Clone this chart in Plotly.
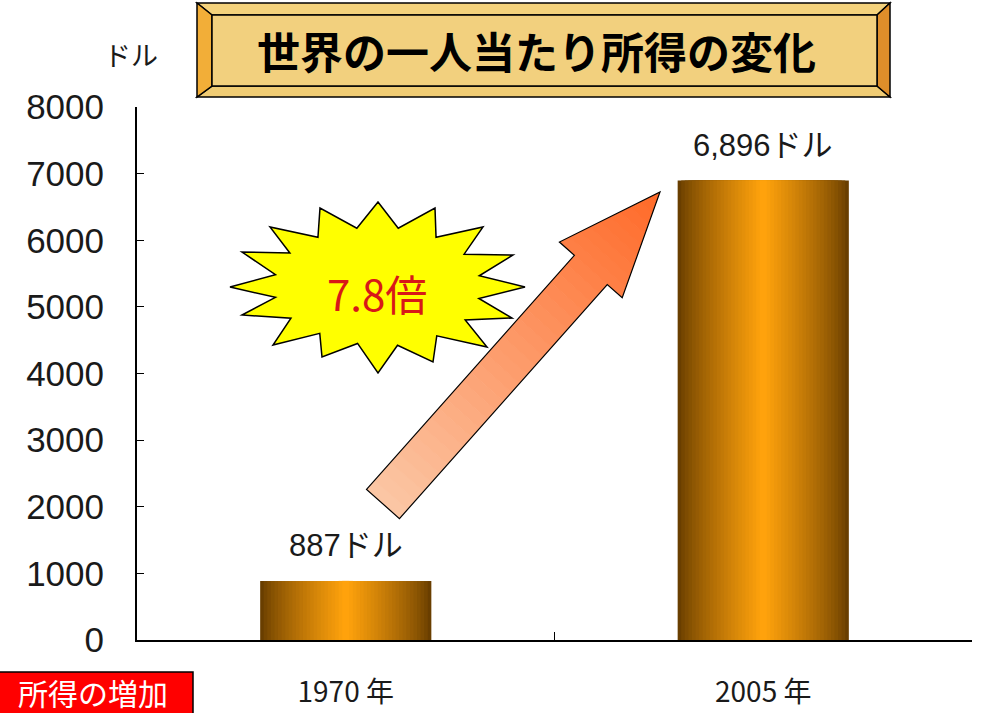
import math
import plotly.graph_objects as go

# ---- data ----
years = ["1970", "2005"]
year_labels = ["1970 年", "2005 年"]
income = [887, 6896]
income_labels = ["887ドル", "6,896ドル"]
y_ticks = [0, 1000, 2000, 3000, 4000, 5000, 6000, 7000, 8000]
ratio_text = "7.8倍"
title_text = "世界の一人当たり所得の変化"
unit_text = "ドル"
note_text = "所得の増加"

W, H = 984, 713
ML, MR, MT, MB = 137, 12, 107, 73
PW, PH = W - ML - MR, H - MT - MB

JP = "Noto Sans CJK JP"
SANS = "Liberation Sans, Noto Sans CJK JP"
NARROW = "Liberation Sans Narrow, Noto Sans CJK JP"


def px(x):
    return (x - ML) / PW


def py(y):
    return (H - MB - y) / PH


def lerp(c0, c1, t):
    return "rgb(%d,%d,%d)" % tuple(round(a + (b - a) * t) for a, b in zip(c0, c1))


def label(x, y, text, size, color="#1a1a1a", family=JP, pad=1):
    fig.add_annotation(xref="paper", yref="paper", x=px(x), y=py(y), text=text,
                       showarrow=False, xanchor="center", yanchor="middle",
                       borderpad=pad,
                       font=dict(size=size, color=color, family=family))


fig = go.Figure()

# bars with a horizontal metallic gradient: stacked overlays, narrower = brighter
edge, centre = (105, 62, 0), (255, 162, 12)
N = 24
bar_w = 0.41
for k in range(N):
    t = k / (N - 1)
    fig.add_trace(go.Bar(
        x=years, y=income,
        width=bar_w * (1 - k / N),
        marker=dict(color=lerp(edge, centre, t ** 0.8), line=dict(width=0)),
        hoverinfo="skip" if k else "y",
        showlegend=False,
    ))

# value labels above bars (x given as category index)
for i, (v, lab) in enumerate(zip(income, income_labels)):
    fig.add_annotation(x=i, y=v, xref="x", yref="y", text=lab, showarrow=False,
                       xanchor="center", yanchor="bottom", yshift=16,
                       font=dict(size=31, color="#1a1a1a", family=SANS))

shapes = []


def poly(pts_px, fill, line_w=0, line_c="black", layer="above"):
    d = "M " + " L ".join("%.5f,%.5f" % (px(x), py(y)) for x, y in pts_px) + " Z"
    shapes.append(dict(type="path", xref="paper", yref="paper", path=d,
                       fillcolor=fill, line=dict(width=line_w, color=line_c),
                       layer=layer))


# ---- growth arrow with lengthwise gradient ----
sx, sy = 383, 504          # tail centre
tx, ty = 660, 192          # tip
L = math.hypot(tx - sx, ty - sy)
ux, uy = (tx - sx) / L, (ty - sy) / L
vx, vy = -uy, ux
ws, wh, Ls = 22, 42, 313


def pt(s, t):
    return (sx + ux * s + vx * t, sy + uy * s + vy * t)


c_bot, c_top = (251, 198, 164), (255, 104, 38)
n1, n2 = 26, 10
for i in range(n1):
    s0, s1 = Ls * i / n1, Ls * (i + 1) / n1 + 0.6
    col = lerp(c_bot, c_top, (s0 / L))
    poly([pt(s0, -ws), pt(s1, -ws), pt(s1, ws), pt(s0, ws)], col)
for i in range(n2):
    s0 = Ls + (L - Ls) * i / n2
    s1 = Ls + (L - Ls) * (i + 1) / n2
    w0 = wh * (L - s0) / (L - Ls)
    w1 = wh * (L - s1) / (L - Ls)
    col = lerp(c_bot, c_top, (s0 / L))
    poly([pt(s0, -w0), pt(min(s1 + 0.6, L), -max(w1 - 0.3, 0)),
          pt(min(s1 + 0.6, L), max(w1 - 0.3, 0)), pt(s0, w0)], col)
poly([pt(0, -ws), pt(Ls, -ws), pt(Ls, -wh), pt(L, 0), pt(Ls, wh), pt(Ls, ws), pt(0, ws)],
     "rgba(0,0,0,0)", line_w=1.2)

# ---- starburst badge ----
cx, cy = 377, 288
tips = [(378, 202), (435, 208), (483, 227), (513, 255), (525, 287), (512, 318),
        (487, 347), (433, 362), (378, 373), (322, 357), (273, 345), (242, 315),
        (230, 287), (242, 252), (270, 227), (320, 208)]
star = []
for i, (ax, ay) in enumerate(tips):
    bx, by = tips[(i + 1) % len(tips)]
    mx, my = (ax + bx) / 2, (ay + by) / 2
    star.append((ax, ay))
    star.append((cx + (mx - cx) * 0.72, cy + (my - cy) * 0.72))
poly(star, "#FFFF00", line_w=1.5)
label(377, 292, ratio_text, 42, color="#D81818", family=NARROW)

# ---- framed title plate ----
ox0, oy0, ox1, oy1 = 197, 3, 890, 97
ix0, iy0, ix1, iy1 = 212, 15, 877, 86
poly([(ox0, oy0), (ox1, oy0), (ix1, iy0), (ix0, iy0)], "#F4D27C", 1.5)   # top bevel
poly([(ox0, oy1), (ox1, oy1), (ix1, iy1), (ix0, iy1)], "#F0CC74", 1.5)   # bottom bevel
poly([(ox0, oy0), (ix0, iy0), (ix0, iy1), (ox0, oy1)], "#F2AE38", 1.5)   # left bevel
poly([(ox1, oy0), (ix1, iy0), (ix1, iy1), (ox1, oy1)], "#DE8E2A", 1.5)   # right bevel
poly([(ix0, iy0), (ix1, iy0), (ix1, iy1), (ix0, iy1)], "#F2D07E", 1.5)   # face
label(536, 50, "<b>" + title_text + "</b>", 43, color="black")

# unit label
label(131, 55, unit_text, 27)

# red note box at lower left
poly([(-5, 672), (193, 672), (193, 730), (-5, 730)], "#FF0000", 1.5)
label(93, 692, note_text, 30, color="white", pad=0)

fig.update_layout(
    width=W, height=H,
    margin=dict(l=ML, r=MR, t=MT, b=MB, autoexpand=False),
    paper_bgcolor="white", plot_bgcolor="white",
    barmode="overlay",
    shapes=shapes,
    showlegend=False,
    xaxis=dict(
        type="category", categoryorder="array", categoryarray=years,
        tickvals=years, ticktext=year_labels,
        tickson="boundaries", ticks="inside", ticklen=8, tickcolor="black",
        showline=True, linecolor="black", linewidth=2, showgrid=False,
        ticklabelstandoff=26,
        tickfont=dict(size=28, color="#1a1a1a", family=NARROW),
        range=[-0.5, 1.5], fixedrange=True,
    ),
    yaxis=dict(
        range=[0, 8000], tickvals=y_ticks,
        ticks="inside", ticklen=7, tickcolor="black",
        showline=True, linecolor="black", linewidth=2, showgrid=False,
        zeroline=False, ticklabelstandoff=24,
        tickfont=dict(size=35, color="#1a1a1a", family="Liberation Sans"),
        fixedrange=True,
    ),
)

fig.write_html("out.html")
